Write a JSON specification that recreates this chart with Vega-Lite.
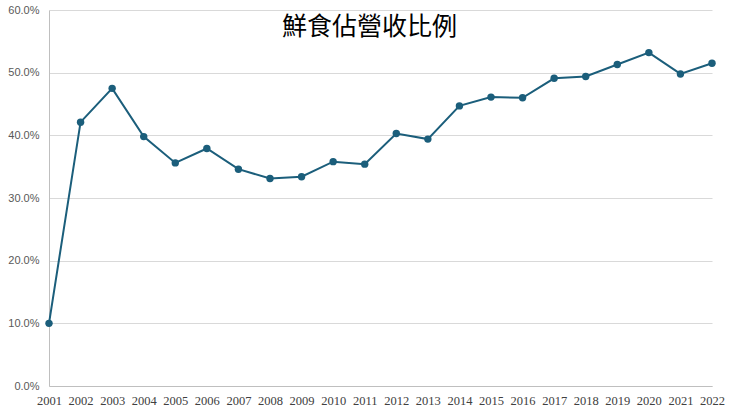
{
  "$schema": "https://vega.github.io/schema/vega-lite/v6.json",
  "autosize": "none",
  "width": 663,
  "height": 376,
  "padding": {"left": 49, "top": 10, "right": 28, "bottom": 30},
  "background": "white",
  "title": {
    "text": "鮮食佔營收比例",
    "font": "Noto Sans CJK TC",
    "fontSize": 25,
    "fontWeight": "normal",
    "color": "#000000",
    "anchor": "middle",
    "dx": -11,
    "offset": -36
  },
  "data": {
    "values": [
      {"year": "2001", "ratio": 0.100},
      {"year": "2002", "ratio": 0.421},
      {"year": "2003", "ratio": 0.475},
      {"year": "2004", "ratio": 0.398},
      {"year": "2005", "ratio": 0.356},
      {"year": "2006", "ratio": 0.379},
      {"year": "2007", "ratio": 0.346},
      {"year": "2008", "ratio": 0.331},
      {"year": "2009", "ratio": 0.334},
      {"year": "2010", "ratio": 0.358},
      {"year": "2011", "ratio": 0.354},
      {"year": "2012", "ratio": 0.403},
      {"year": "2013", "ratio": 0.394},
      {"year": "2014", "ratio": 0.447},
      {"year": "2015", "ratio": 0.461},
      {"year": "2016", "ratio": 0.460},
      {"year": "2017", "ratio": 0.491},
      {"year": "2018", "ratio": 0.494},
      {"year": "2019", "ratio": 0.513},
      {"year": "2020", "ratio": 0.532},
      {"year": "2021", "ratio": 0.498},
      {"year": "2022", "ratio": 0.515}
    ]
  },
  "mark": {
    "type": "line",
    "color": "#1b5e7b",
    "strokeWidth": 2,
    "point": {"filled": true, "size": 55, "color": "#1b5e7b"}
  },
  "encoding": {
    "x": {
      "field": "year",
      "type": "ordinal",
      "scale": {"type": "point", "padding": 0},
      "axis": {
        "title": null,
        "labelAngle": 0,
        "labelFont": "Liberation Serif",
        "labelFontSize": 12.5,
        "labelColor": "#404040",
        "labelPadding": 8,
        "ticks": false,
        "domainColor": "#bfbfbf",
        "grid": false
      }
    },
    "y": {
      "field": "ratio",
      "type": "quantitative",
      "scale": {"domain": [0, 0.6], "nice": false},
      "axis": {
        "title": null,
        "format": ".1%",
        "values": [0, 0.1, 0.2, 0.3, 0.4, 0.5, 0.6],
        "labelFont": "Liberation Sans",
        "labelFontSize": 11,
        "labelColor": "#595959",
        "labelPadding": 10,
        "ticks": false,
        "domainColor": "#bfbfbf",
        "gridColor": "#d9d9d9",
        "gridWidth": 1.2
      }
    }
  },
  "config": {"view": {"stroke": null}}
}
